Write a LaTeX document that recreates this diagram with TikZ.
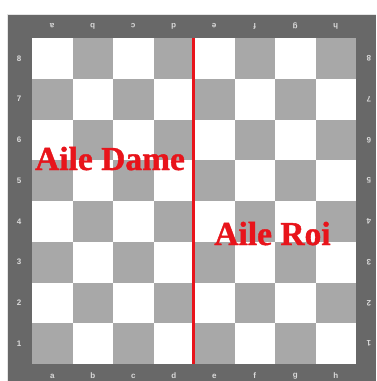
\documentclass[tikz,border=0pt]{standalone}
\usepackage{fontspec}
\setmainfont{Liberation Serif}
\newfontfamily\wingfont{Liberation Serif Bold}[FakeBold=1.2]
\newfontfamily\lblfont{Liberation Sans Bold}
\definecolor{framegray}{HTML}{686868}
\definecolor{sqgray}{HTML}{A8A8A8}
\definecolor{lblgray}{HTML}{DADADA}
\definecolor{redline}{HTML}{E8141B}
\tikzset{
  coordlbl/.style={text=lblgray, font=\lblfont\fontsize{8}{9}\selectfont, inner sep=0pt},
  winglbl/.style={text=redline, font=\wingfont\fontsize{33.5}{35}\selectfont, inner sep=0pt, anchor=base},
}
\begin{document}
\begin{tikzpicture}[x=1pt,y=-1pt]
\useasboundingbox (0,0) rectangle (376,381);
\fill[white] (0,0) rectangle (376,381);
% frame
\fill[framegray] (7,14) rectangle (376,381);
\draw[lblgray!70, line width=0.6pt] (7,381) -- (7,14) -- (376,14);
% board
\fill[white] (32,38) rectangle (356,364);
\foreach \i in {0,...,7}{
  \foreach \j in {0,...,7}{
    \pgfmathtruncatemacro{\p}{mod(\i+\j,2)}
    \ifnum\p=1
      \fill[sqgray] ({32+40.5*\i},{38+40.75*\j}) rectangle ({32+40.5*(\i+1)},{38+40.75*(\j+1)});
    \fi
  }
}
% file labels
\foreach \f [count=\k from 0] in {a,b,c,d,e,f,g,h}{
  \node[coordlbl] (bot\f) at ({52.25+40.5*\k},376) {\f};
  \node[coordlbl, rotate=180] (top\f) at ({52.25+40.5*\k},26) {\f};
}
% rank labels
\foreach \r [count=\k from 0] in {8,7,6,5,4,3,2,1}{
  \node[coordlbl] (left\r) at (19,{58.4+40.75*\k}) {\r};
  \node[coordlbl, rotate=180] (right\r) at (369,{58.4+40.75*\k}) {\r};
}
% dividing line
\coordinate (lineTop) at (193,38);
\coordinate (lineBot) at (193,364);
\draw[redline, line width=3pt] (lineTop) -- (lineBot);
% wing labels
\node[winglbl] (dame) at (110,170) {Aile Dame};
\node[winglbl] (roi) at (272.5,245) {Aile Roi};
\end{tikzpicture}
\end{document}
